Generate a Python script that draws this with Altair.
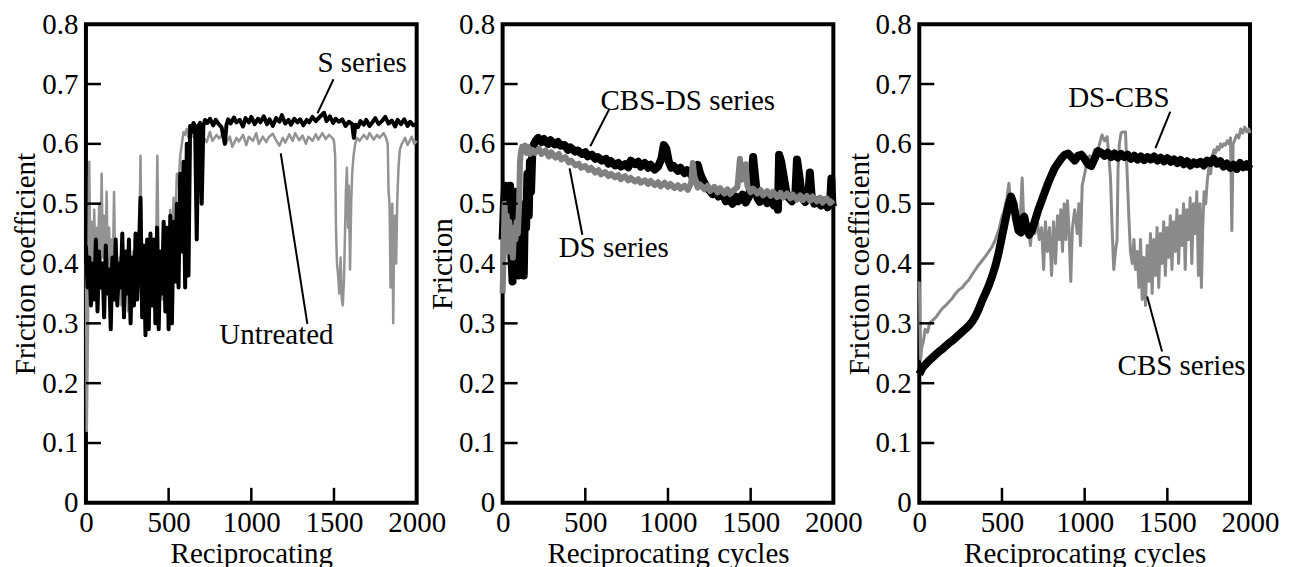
import altair as alt
import pandas as pd

FONT = "'Liberation Serif', 'DejaVu Serif', serif"
FS = 29

# ---------------- Panel 1 ----------------
untreated = [(0,0.40),(5,0.12),(12,0.28),(20,0.57),(27,0.38),(35,0.47),(42,0.36),(50,0.49),(57,0.40),(65,0.46),
 (72,0.38),(80,0.50),(88,0.42),(95,0.55),(102,0.41),(110,0.48),(118,0.38),(125,0.52),(132,0.40),(140,0.46),
 (148,0.36),(155,0.44),(162,0.38),(170,0.52),(178,0.37),(185,0.42),(195,0.35),(205,0.41),(215,0.33),(225,0.40),
 (235,0.36),(245,0.41),(255,0.32),(265,0.40),(275,0.35),(285,0.42),(295,0.33),(305,0.40),(315,0.36),(322,0.42),
 (330,0.58),(338,0.37),(345,0.41),(355,0.32),(365,0.40),(375,0.35),(385,0.43),(395,0.33),(405,0.41),(415,0.36),
 (425,0.44),(432,0.58),(440,0.38),(450,0.42),(460,0.34),(470,0.44),(480,0.37),(490,0.46),(500,0.38),(510,0.49),
 (520,0.42),(530,0.51),(540,0.47),(550,0.55),(560,0.53),(570,0.58),(580,0.60),(590,0.62),(600,0.615),(610,0.625),
 (620,0.61),(630,0.62),(650,0.612),(665,0.618),(680,0.607),(700,0.615),(715,0.609),(730,0.603),(750,0.62),(765,0.605),
 (790,0.615),(805,0.609),(830,0.618),(845,0.60),(870,0.612),(885,0.595),(910,0.61),(925,0.604),(950,0.615),(970,0.598),
 (985,0.612),(1010,0.605),(1030,0.618),(1045,0.60),(1070,0.612),(1090,0.603),(1105,0.611),(1130,0.617),(1150,0.606),
 (1170,0.597),(1190,0.61),(1205,0.602),(1230,0.616),(1250,0.605),(1265,0.618),(1290,0.606),(1310,0.614),(1330,0.60),
 (1345,0.612),(1370,0.605),(1390,0.616),(1405,0.607),(1430,0.618),(1450,0.608),(1470,0.615),(1490,0.61),(1500,0.605),
 (1507,0.58),(1512,0.46),(1518,0.40),(1525,0.38),(1532,0.35),(1540,0.41),(1547,0.34),(1553,0.33),(1560,0.37),
 (1565,0.43),(1572,0.52),(1578,0.56),(1585,0.46),(1590,0.53),(1597,0.39),(1604,0.50),(1610,0.55),(1618,0.58),
 (1628,0.60),(1640,0.61),(1655,0.605),(1680,0.615),(1700,0.608),(1715,0.618),(1740,0.607),(1760,0.615),(1775,0.61),
 (1800,0.618),(1815,0.61),(1825,0.60),(1830,0.52),(1836,0.50),(1842,0.36),(1848,0.48),(1853,0.50),(1858,0.30),
 (1864,0.45),(1870,0.48),(1876,0.40),(1882,0.50),(1890,0.56),(1898,0.59),(1910,0.60),(1930,0.61),(1945,0.598),
 (1970,0.612),(1985,0.60),(2000,0.605)]

s_series = [(0,0.43),(10,0.36),(20,0.41),(30,0.33),(40,0.40),(50,0.34),(60,0.44),(70,0.32),(80,0.42),(90,0.36),
 (100,0.40),(110,0.31),(120,0.43),(130,0.35),(140,0.39),(150,0.29),(160,0.41),(170,0.34),(180,0.44),(190,0.33),
 (200,0.40),(210,0.36),(220,0.45),(230,0.31),(240,0.42),(250,0.35),(260,0.44),(270,0.30),(280,0.41),(290,0.33),
 (300,0.45),(310,0.34),(320,0.42),(330,0.51),(340,0.31),(350,0.43),(360,0.28),(370,0.44),(380,0.29),(390,0.45),
 (400,0.33),(410,0.44),(420,0.30),(430,0.46),(440,0.29),(450,0.42),(460,0.35),(470,0.47),(480,0.32),(490,0.46),
 (500,0.29),(510,0.48),(520,0.30),(530,0.47),(540,0.37),(550,0.50),(560,0.36),(570,0.55),(580,0.42),(590,0.57),
 (600,0.36),(610,0.60),(620,0.38),(630,0.63),(640,0.62),(650,0.635),(660,0.63),(670,0.44),(680,0.63),(690,0.635),
 (700,0.50),(710,0.63),(720,0.64),(735,0.635),(750,0.642),(770,0.631),(785,0.640),(800,0.634),(820,0.628),
 (840,0.600),(850,0.632),(860,0.641),(875,0.634),(895,0.644),(910,0.636),(930,0.640),(950,0.629),(965,0.643),
 (985,0.636),(1000,0.645),(1020,0.633),(1040,0.642),(1055,0.636),(1075,0.646),(1095,0.633),(1110,0.641),
 (1130,0.630),(1150,0.643),(1170,0.637),(1185,0.648),(1205,0.634),(1225,0.640),(1240,0.632),(1260,0.642),
 (1280,0.636),(1295,0.641),(1315,0.631),(1335,0.640),(1350,0.636),(1370,0.645),(1390,0.638),(1410,0.644),
 (1440,0.652),(1455,0.638),(1475,0.646),(1495,0.635),(1510,0.642),(1530,0.637),(1550,0.641),(1570,0.630),
 (1590,0.637),(1610,0.633),(1620,0.610),(1630,0.632),(1645,0.628),(1660,0.638),(1680,0.632),(1695,0.640),
 (1715,0.630),(1735,0.637),(1750,0.643),(1770,0.633),(1790,0.638),(1810,0.645),(1830,0.634),(1850,0.639),
 (1870,0.629),(1885,0.640),(1905,0.633),(1925,0.641),(1945,0.630),(1960,0.637),(1980,0.631),(2000,0.633)]

# ---------------- Panel 2 ----------------
cbs_ds = [(0,0.44),(8,0.50),(15,0.53),(22,0.47),(30,0.52),(38,0.45),(45,0.53),(52,0.42),(60,0.37),(68,0.48),
 (75,0.52),(82,0.40),(90,0.45),(98,0.38),(105,0.44),(112,0.39),(120,0.45),(128,0.38),(135,0.50),(142,0.46),
 (150,0.55),(158,0.48),(165,0.57),(172,0.52),(180,0.59),(190,0.60),(200,0.605),(215,0.61),(235,0.603),(250,0.608),
 (275,0.60),(290,0.606),(315,0.599),(335,0.603),(350,0.597),(375,0.598),(395,0.590),(410,0.594),(440,0.587),
 (455,0.589),(480,0.583),(500,0.586),(515,0.579),(540,0.582),(560,0.575),(575,0.578),(600,0.572),(625,0.575),
 (640,0.567),(655,0.571),(680,0.564),(700,0.568),(715,0.562),(740,0.566),(760,0.561),(775,0.572),(800,0.566),
 (820,0.570),(835,0.562),(860,0.568),(880,0.56),(895,0.565),(920,0.557),(940,0.562),(960,0.575),(975,0.598),
 (990,0.592),(1005,0.57),(1020,0.56),(1035,0.563),(1060,0.555),(1075,0.56),(1100,0.551),(1115,0.556),(1140,0.548),
 (1160,0.553),(1180,0.565),(1195,0.55),(1210,0.54),(1230,0.53),(1245,0.524),(1270,0.516),(1290,0.522),(1305,0.512),
 (1330,0.518),(1350,0.504),(1365,0.51),(1390,0.50),(1410,0.512),(1425,0.504),(1450,0.515),(1470,0.502),(1490,0.512),
 (1505,0.545),(1515,0.578),(1525,0.55),(1540,0.51),(1555,0.503),(1580,0.512),(1600,0.501),(1615,0.51),(1640,0.497),
 (1655,0.505),(1665,0.49),(1672,0.582),(1685,0.57),(1700,0.545),(1715,0.52),(1730,0.51),(1750,0.504),(1770,0.515),
 (1780,0.574),(1795,0.545),(1810,0.51),(1830,0.503),(1850,0.52),(1858,0.552),(1868,0.515),(1885,0.50),(1905,0.506),
 (1925,0.497),(1945,0.505),(1965,0.494),(1980,0.50),(1988,0.542),(1994,0.50),(2000,0.495)]

ds_series = [(0,0.35),(6,0.42),(12,0.50),(18,0.44),(25,0.48),(32,0.42),(40,0.47),(48,0.43),(55,0.45),(62,0.41),
 (70,0.46),(78,0.44),(85,0.47),(92,0.45),(100,0.50),(105,0.57),(110,0.585),(118,0.595),(125,0.59),(135,0.597),
 (145,0.585),(155,0.595),(165,0.583),(180,0.59),(195,0.585),(220,0.592),(235,0.583),(260,0.589),(280,0.579),
 (295,0.586),(320,0.577),(340,0.583),(355,0.574),(380,0.578),(400,0.569),(415,0.572),(440,0.564),(460,0.567),
 (475,0.560),(500,0.563),(520,0.556),(535,0.56),(560,0.552),(580,0.556),(595,0.549),(620,0.553),(640,0.546),
 (655,0.55),(680,0.544),(700,0.548),(715,0.541),(740,0.546),(760,0.539),(775,0.543),(800,0.537),(820,0.541),
 (835,0.535),(860,0.539),(880,0.533),(895,0.538),(920,0.531),(940,0.536),(955,0.529),(980,0.535),(1000,0.528),
 (1015,0.533),(1040,0.526),(1060,0.531),(1075,0.525),(1100,0.53),(1120,0.523),(1140,0.535),(1150,0.568),
 (1160,0.545),(1180,0.527),(1195,0.532),(1220,0.524),(1240,0.53),(1255,0.521),(1280,0.528),(1300,0.519),
 (1315,0.526),(1340,0.517),(1360,0.524),(1375,0.516),(1400,0.523),(1420,0.528),(1435,0.575),(1445,0.54),
 (1460,0.545),(1470,0.566),(1480,0.53),(1500,0.519),(1515,0.525),(1540,0.517),(1560,0.523),(1575,0.514),
 (1600,0.521),(1620,0.513),(1635,0.52),(1660,0.511),(1680,0.518),(1695,0.510),(1720,0.517),(1740,0.509),
 (1755,0.515),(1780,0.507),(1800,0.514),(1815,0.506),(1840,0.513),(1860,0.505),(1875,0.512),(1900,0.504),
 (1920,0.51),(1935,0.502),(1960,0.509),(1980,0.501),(2000,0.506)]

# ---------------- Panel 3 ----------------
ds_cbs = [(0,0.215),(20,0.226),(40,0.232),(60,0.238),(80,0.243),(100,0.248),(120,0.253),(140,0.257),(160,0.262),
 (180,0.267),(200,0.271),(220,0.276),(240,0.281),(260,0.286),(280,0.291),(300,0.296),(320,0.303),(340,0.312),
 (360,0.324),(380,0.338),(400,0.350),(420,0.363),(440,0.378),(460,0.396),(480,0.418),(500,0.445),(520,0.472),
 (540,0.498),(555,0.512),(570,0.50),(585,0.475),(600,0.455),(615,0.452),(625,0.475),(635,0.478),(650,0.458),
 (665,0.448),(680,0.455),(700,0.472),(720,0.49),(740,0.505),(760,0.52),(780,0.535),(800,0.548),(820,0.56),
 (840,0.568),(860,0.576),(880,0.582),(900,0.584),(920,0.578),(940,0.572),(960,0.58),(980,0.582),(1000,0.575),
 (1020,0.566),(1040,0.563),(1060,0.575),(1080,0.588),(1100,0.585),(1120,0.58),(1140,0.585),(1160,0.578),
 (1180,0.584),(1200,0.577),(1220,0.583),(1240,0.578),(1260,0.582),(1280,0.575),(1300,0.580),(1320,0.574),
 (1340,0.579),(1360,0.573),(1380,0.578),(1400,0.574),(1420,0.579),(1440,0.572),(1460,0.577),(1480,0.571),
 (1500,0.576),(1520,0.570),(1540,0.574),(1560,0.568),(1580,0.573),(1600,0.566),(1620,0.571),(1640,0.564),
 (1660,0.569),(1680,0.566),(1700,0.570),(1720,0.564),(1740,0.572),(1760,0.568),(1780,0.575),(1800,0.567),
 (1820,0.571),(1840,0.562),(1860,0.567),(1880,0.560),(1900,0.565),(1920,0.558),(1940,0.568),(1960,0.561),
 (1980,0.566),(2000,0.558)]

cbs_series = [(0,0.37),(8,0.24),(15,0.26),(25,0.27),(35,0.29),(50,0.285),(62,0.30),(80,0.305),(100,0.31),
 (120,0.318),(140,0.325),(160,0.33),(180,0.336),(200,0.342),(220,0.35),(240,0.356),(260,0.36),(280,0.367),
 (300,0.373),(320,0.382),(340,0.39),(360,0.398),(380,0.405),(400,0.412),(420,0.42),(440,0.428),(460,0.44),
 (480,0.455),(500,0.478),(515,0.49),(530,0.51),(542,0.534),(552,0.50),(565,0.49),(580,0.465),(595,0.455),
 (610,0.47),(622,0.543),(632,0.47),(645,0.455),(660,0.46),(672,0.43),(685,0.47),(700,0.45),(712,0.48),(725,0.44),
 (740,0.46),(752,0.39),(763,0.47),(775,0.42),(788,0.46),(800,0.38),(812,0.47),(824,0.40),(836,0.48),(846,0.44),
 (856,0.49),(866,0.42),(876,0.50),(886,0.44),(896,0.505),(906,0.45),(916,0.37),(926,0.46),(940,0.49),(955,0.45),
 (965,0.50),(975,0.43),(985,0.53),(1000,0.55),(1015,0.57),(1030,0.58),(1045,0.575),(1060,0.59),(1075,0.585),
 (1090,0.60),(1105,0.615),(1120,0.605),(1136,0.612),(1146,0.58),(1156,0.545),(1166,0.46),(1176,0.39),(1186,0.42),
 (1196,0.44),(1202,0.56),(1210,0.60),(1220,0.618),(1232,0.62),(1247,0.62),(1257,0.55),(1267,0.479),(1277,0.42),
 (1288,0.40),(1298,0.44),(1307,0.39),(1318,0.42),(1328,0.36),(1338,0.44),(1348,0.34),(1358,0.41),(1368,0.33),
 (1378,0.43),(1388,0.37),(1398,0.45),(1408,0.35),(1418,0.44),(1428,0.38),(1438,0.46),(1448,0.36),(1458,0.45),
 (1468,0.40),(1478,0.47),(1488,0.38),(1498,0.46),(1508,0.41),(1518,0.48),(1528,0.39),(1538,0.47),(1548,0.42),
 (1558,0.49),(1568,0.40),(1578,0.48),(1588,0.43),(1598,0.50),(1608,0.39),(1618,0.49),(1628,0.44),(1638,0.51),
 (1648,0.40),(1658,0.50),(1668,0.45),(1678,0.52),(1688,0.38),(1698,0.50),(1706,0.36),(1714,0.46),(1722,0.52),
 (1732,0.50),(1742,0.54),(1752,0.56),(1762,0.55),(1772,0.58),(1782,0.59),(1792,0.585),(1802,0.595),(1812,0.59),
 (1822,0.60),(1832,0.595),(1842,0.60),(1852,0.598),(1862,0.605),(1872,0.60),(1882,0.61),(1890,0.455),(1898,0.60),
 (1908,0.607),(1920,0.615),(1932,0.61),(1944,0.625),(1956,0.618),(1968,0.628),(1980,0.62),(1992,0.625),(2000,0.618)]

# annotations: label, text x, text y, leader x1, y1, x2, y2
ann1 = [("S series", 1670, 0.735, 1497, 0.708, 1400, 0.651),
        ("Untreated", 1152, 0.280, 1178, 0.584, 1339, 0.299)]
ann2 = [("CBS-DS series", 1120, 0.671, 645, 0.658, 530, 0.596),
        ("DS series", 672, 0.426, 405, 0.559, 482, 0.448)]
ann3 = [("DS-CBS", 1207, 0.676, 1518, 0.654, 1428, 0.593),
        ("CBS series", 1586, 0.229, 1378, 0.345, 1468, 0.253)]

y_ticks = [0.1, 0.2, 0.3, 0.4, 0.5, 0.6, 0.7]
x_ticks = [500, 1000, 1500]
y_labels = [0, 0.1, 0.2, 0.3, 0.4, 0.5, 0.6, 0.7, 0.8]
x_labels = [0, 500, 1000, 1500, 2000]

W, H = 331, 479


def to_df(pairs):
    return pd.DataFrame(pairs, columns=["x", "y"])


def panel(gray, black, gray_w, black_w, gray_col, black_on_top, ann, xtitle, ytitle):
    xs = alt.Scale(domain=[0, 2000], nice=False, zero=False)
    ys = alt.Scale(domain=[0, 0.8], nice=False, zero=False)
    xax = alt.Axis(values=x_labels, format="d", ticks=False, tickSize=0, domain=False, grid=False,
                   labelPadding=6, labelFlush=False, labelOverlap=False, titlePadding=2,
                   labelFontSize=FS, titleFontSize=FS, labelFont=FONT, titleFont=FONT)
    yax = alt.Axis(values=y_labels, format=".1~f", ticks=False, tickSize=0, domain=False, grid=False,
                   labelPadding=8, labelFlush=False, labelOverlap=False, titlePadding=1,
                   labelFontSize=FS, titleFontSize=FS, labelFont=FONT, titleFont=FONT)
    X = alt.X("x:Q", scale=xs, axis=xax, title=xtitle)
    Y = alt.Y("y:Q", scale=ys, axis=yax, title=ytitle)

    g = alt.Chart(to_df(gray)).mark_line(color=gray_col, strokeWidth=gray_w, strokeJoin="round").encode(x=X, y=Y)
    b = alt.Chart(to_df(black)).mark_line(color="black", strokeWidth=black_w, strokeJoin="round").encode(x=X, y=Y)
    lines = [g, b] if black_on_top else [b, g]

    yt = alt.Chart(pd.DataFrame({"y": y_ticks})).mark_rule(color="black", strokeWidth=2.5).encode(
        y=Y, x=alt.value(0), x2=alt.value(15))
    xt = alt.Chart(pd.DataFrame({"x": x_ticks})).mark_rule(color="black", strokeWidth=2.5).encode(
        x=X, y=alt.value(H), y2=alt.value(H - 15))

    adf = pd.DataFrame(ann, columns=["label", "x", "y", "x1", "y1", "x2", "y2"])
    leaders = alt.Chart(adf).mark_rule(color="black", strokeWidth=2).encode(
        x=alt.X("x1:Q", scale=xs), y=alt.Y("y1:Q", scale=ys), x2="x2:Q", y2="y2:Q")
    texts = alt.Chart(adf).mark_text(font=FONT, fontSize=FS, color="black", align="center",
                                     baseline="middle").encode(x=X, y=Y, text="label:N")
    return alt.layer(*lines, yt, xt, leaders, texts).properties(width=W, height=H)


p1 = panel(untreated, s_series, 2.5, 4, "#939393", True, ann1, "Reciprocating", "Friction coefficient")
p2 = panel(ds_series, cbs_ds, 6, 8, "#808080", False, ann2, "Reciprocating cycles", "Friction")
p3 = panel(cbs_series, ds_cbs, 3, 8, "#8a8a8a", True, ann3, "Reciprocating cycles", "Friction coefficient")

chart = alt.hconcat(p1, p2, p3, spacing=86, bounds="flush").properties(
    padding={"left": 1, "top": 0, "right": 0, "bottom": 0}
).configure(font=FONT).configure_axis(
    labelFont=FONT, titleFont=FONT, labelColor="black", titleColor="black", titleFontWeight="normal"
).configure_text(font=FONT).configure_view(stroke="black", strokeWidth=4)

chart.save("out.html", embed_options={"renderer": "svg", "actions": False})
